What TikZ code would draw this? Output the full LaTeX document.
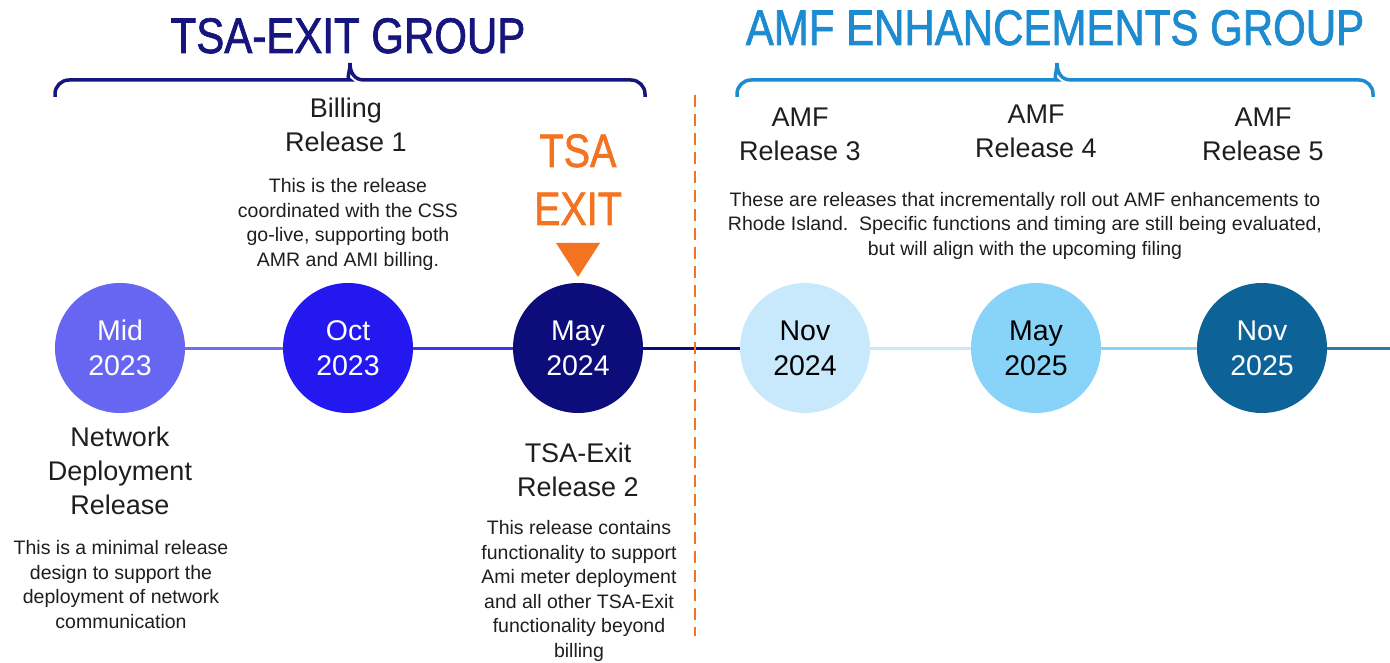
\documentclass[tikz,border=0pt]{standalone}
\usepackage{fontspec}
\setmainfont{Liberation Sans}
\newfontfamily\narrowfont[FakeStretch=0.84,FakeBold=1.4]{Liberation Sans}

\definecolor{tsanavy}{HTML}{15157D}
\definecolor{amfblue}{HTML}{1D8BD0}
\definecolor{exitorange}{HTML}{F47321}
\definecolor{inktext}{HTML}{1E1E1E}
% milestone fills
\definecolor{midcol}{HTML}{6666F2}
\definecolor{octcol}{HTML}{2319F0}
\definecolor{mayacol}{HTML}{0C0C7A}
\definecolor{novacol}{HTML}{C8E8FB}
\definecolor{maybcol}{HTML}{88D4F9}
\definecolor{novbcol}{HTML}{0D6397}
% timeline segments
\definecolor{midoctline}{HTML}{6E6EF2}
\definecolor{octmayline}{HTML}{3A3AEC}
\definecolor{tailline}{HTML}{2E77A6}

\tikzstyle{milestone} = [shape=circle,minimum size=130pt,inner sep=0pt,align=center,font=\fontsize{28.5}{35}\selectfont]
\tikzstyle{release} = [align=center,anchor=base,inner sep=0pt,text=inktext,font=\fontsize{27}{34}\selectfont]
\tikzstyle{note} = [align=center,anchor=base,inner sep=0pt,text=inktext,font=\fontsize{19.5}{24.5}\selectfont]
\tikzstyle{grouptitle} = [anchor=base,inner sep=0pt,font=\narrowfont\fontsize{50}{60}\selectfont]
\tikzstyle{timeline} = [line width=3pt]
\tikzstyle{groupbrace} = [line width=3.5pt]

\begin{document}
\begin{tikzpicture}[x=1pt,y=-1pt]
  \useasboundingbox (0,0) rectangle (1390,663);

  %% group titles and braces
  \node[grouptitle,text=tsanavy] (tsatitle) at (348,53) {TSA-EXIT GROUP};
  \node[grouptitle,text=amfblue] (amftitle) at (1055,45) {AMF ENHANCEMENTS GROUP};
  \foreach \bstart/\tip/\bend/\col in {55/350/645/tsanavy, 737/1057/1373/amfblue}
  {
    \draw[groupbrace,\col] (\bstart,97) [rounded corners=14pt] -- (\bstart,80) -- ({\tip-14},80)
      [sharp corners] .. controls ({\tip-4},80) and (\tip,72) .. (\tip,63)
      .. controls (\tip,72) and ({\tip+4},80) .. ({\tip+14},80)
      [rounded corners=14pt] -- (\bend,80) -- (\bend,97);
  }

  %% milestones
  \foreach \nodename/\x/\fillcol/\textcol/\mon/\yr in {mid/120/midcol/white/Mid/2023,
    oct/348/octcol/white/Oct/2023, maya/578/mayacol/white/May/2024,
    nova/805/novacol/black/Nov/2024, mayb/1036/maybcol/black/May/2025,
    novb/1262/novbcol/white/Nov/2025}
  {
    \node[milestone,fill=\fillcol,text=\textcol] (\nodename) at (\x,348) {\mon\\\yr};
  }
  \coordinate (rightend) at (1390,348);

  %% timeline segments
  \foreach \startnode/\endnode/\col in {mid/oct/midoctline, oct/maya/octmayline,
    maya/nova/mayacol, nova/mayb/novacol, mayb/novb/maybcol, novb/rightend/tailline}
  {
    \draw[timeline,\col] (\startnode) -- (\endnode);
  }

  %% separator between the groups
  \draw[exitorange,line width=2.5pt,dash pattern=on 12pt off 7pt] (695,95) -- (695,636);

  %% exit marker (base = last line)
  \node[grouptitle,text=exitorange,align=center,font=\narrowfont\fontsize{47}{58}\selectfont] (exitlabel) at (578,225) {TSA\\EXIT};
  \fill[exitorange] (556,243) -- (600,243) -- (578,277) -- cycle;

  %% release names, placed by the baseline of their last line
  \node[release] (netrel) at (120,514) {Network\\Deployment\\Release};
  \node[release] (billrel) at (346,152) {Billing\\Release 1};
  \node[release] (exitrel) at (578,496) {TSA-Exit\\Release 2};
  \node[release] (amfthree) at (800,161) {AMF\\Release 3};
  \node[release] (amffour) at (1036,158) {AMF\\Release 4};
  \node[release] (amffive) at (1263,161) {AMF\\Release 5};

  %% release notes
  \node[note] (netnote) at (121,628) {This is a minimal release\\design to support the\\deployment of network\\communication};
  \node[note] (billnote) at (348,266) {This is the release\\coordinated with the CSS\\go-live, supporting both\\AMR and AMI billing.};
  \node[note] (exitnote) at (579,657) {This release contains\\functionality to support\\Ami meter deployment\\and all other TSA-Exit\\functionality beyond\\billing};
  \node[note] (amfnote) at (1025,255) {These are releases that incrementally roll out AMF enhancements to\\Rhode Island.\ \ Specific functions and timing are still being evaluated,\\but will align with the upcoming filing};
\end{tikzpicture}
\end{document}
